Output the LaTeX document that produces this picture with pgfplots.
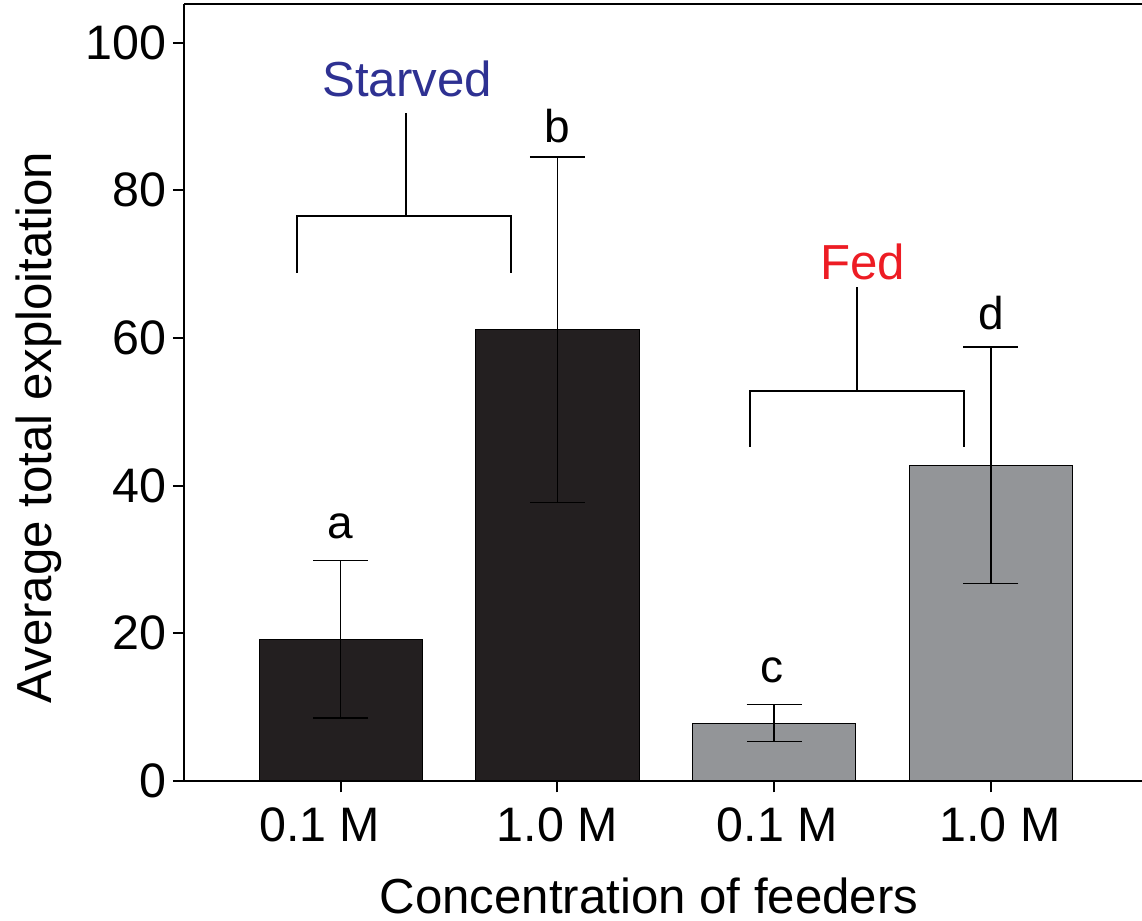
\documentclass[border=0pt]{standalone}
\usepackage{fontspec}
\setmainfont{Liberation Sans}
\usepackage{pgfplots}
\pgfplotsset{compat=1.18}
\definecolor{darkbar}{HTML}{231F20}
\definecolor{graybar}{HTML}{939598}
\definecolor{starblue}{HTML}{2E3192}
\definecolor{fedred}{HTML}{ED1C24}
\begin{document}
\begin{tikzpicture}
\begin{axis}[
  name=ax, at={(0,0)}, anchor=south west,
  scale only axis, width=478.75pt, height=388.25pt,
  xmin=-0.7206, xmax=3.697, ymin=0, ymax=105.15,
  axis x line*=bottom, axis y line*=left,
  axis line style={line width=1pt, -, black},
  ytick={0,20,40,60,80,100}, xtick={0,1,2,3},
  xticklabels={{0.1 M\kern21pt},{1.0 M},{\kern3pt 0.1 M},{\kern9pt 1.0 M}},
  tick align=outside, major tick length=5.75pt,
  tick style={line width=1pt, black},
  /pgf/number format/assume math mode=true,
  tick label style={font=\fontsize{24.2}{29}\selectfont},
  yticklabel style={inner sep=0pt, xshift=-3.25pt},
  xticklabel style={inner sep=0pt, yshift=-7.25pt},
  xlabel={Concentration of feeders},
  ylabel={Average total exploitation},
  label style={font=\fontsize{24.6}{29}\selectfont},
  xlabel style={at={(axis description cs:0.485,-0.170)}, anchor=base, inner sep=0pt},
  ylabel style={at={(axis description cs:-0.1387,0.455)}, anchor=base, inner sep=0pt},
  clip=false,
]
\addplot[ybar, bar width=0.753, bar shift=0pt, fill=darkbar, draw=black, line width=0.5pt,
  error bars/.cd, y dir=both, y explicit,
  error bar style={line width=0.75pt, black},
  error mark options={rotate=90, mark size=13.75pt, line width=0.75pt, black}]
  coordinates {(0,19.19) +- (0,10.65) (1,61.1) +- (0,23.4)};
\addplot[ybar, bar width=0.753, bar shift=0pt, fill=graybar, draw=black, line width=0.5pt,
  error bars/.cd, y dir=both, y explicit,
  error bar style={line width=0.75pt, black},
  error mark options={rotate=90, mark size=13.75pt, line width=0.75pt, black}]
  coordinates {(2,7.85) +- (0,2.5) (3,42.75) +- (0,16.0)};
% top frame line
\draw[line width=1pt, black] (rel axis cs:0,1) -- (rel axis cs:1,1);
% significance letters
\begin{scope}[font=\fontsize{23}{28}\selectfont]
\node[anchor=base] at (axis cs:0,32.78) {a};
\node[anchor=base] at (axis cs:1,86.4) {b};
\node[anchor=base] at (axis cs:1.99,13.3) {c};
\node[anchor=base] at (axis cs:3,61.1) {d};
\end{scope}
% brackets
\draw[line width=1pt, black] (axis cs:-0.200,68.85) -- (axis cs:-0.200,76.53) -- (axis cs:0.785,76.53) -- (axis cs:0.785,68.85);
\draw[line width=1pt, black] (axis cs:0.2998,76.53) -- (axis cs:0.2998,90.52);
\draw[line width=1pt, black] (axis cs:1.887,45.28) -- (axis cs:1.887,52.82) -- (axis cs:2.875,52.82) -- (axis cs:2.875,45.28);
\draw[line width=1pt, black] (axis cs:2.382,52.82) -- (axis cs:2.382,66.95);
\node[anchor=base, text=starblue, font=\fontsize{24.6}{29}\selectfont] at (axis cs:0.306,92.7) {Starved};
\node[anchor=base, text=fedred, font=\fontsize{24.6}{29}\selectfont] at (axis cs:2.407,67.95) {Fed};
\end{axis}
\pgfresetboundingbox
\path[use as bounding box] (-92.25pt,-70pt) rectangle (478.75pt,390.5pt);
\end{tikzpicture}
\end{document}
